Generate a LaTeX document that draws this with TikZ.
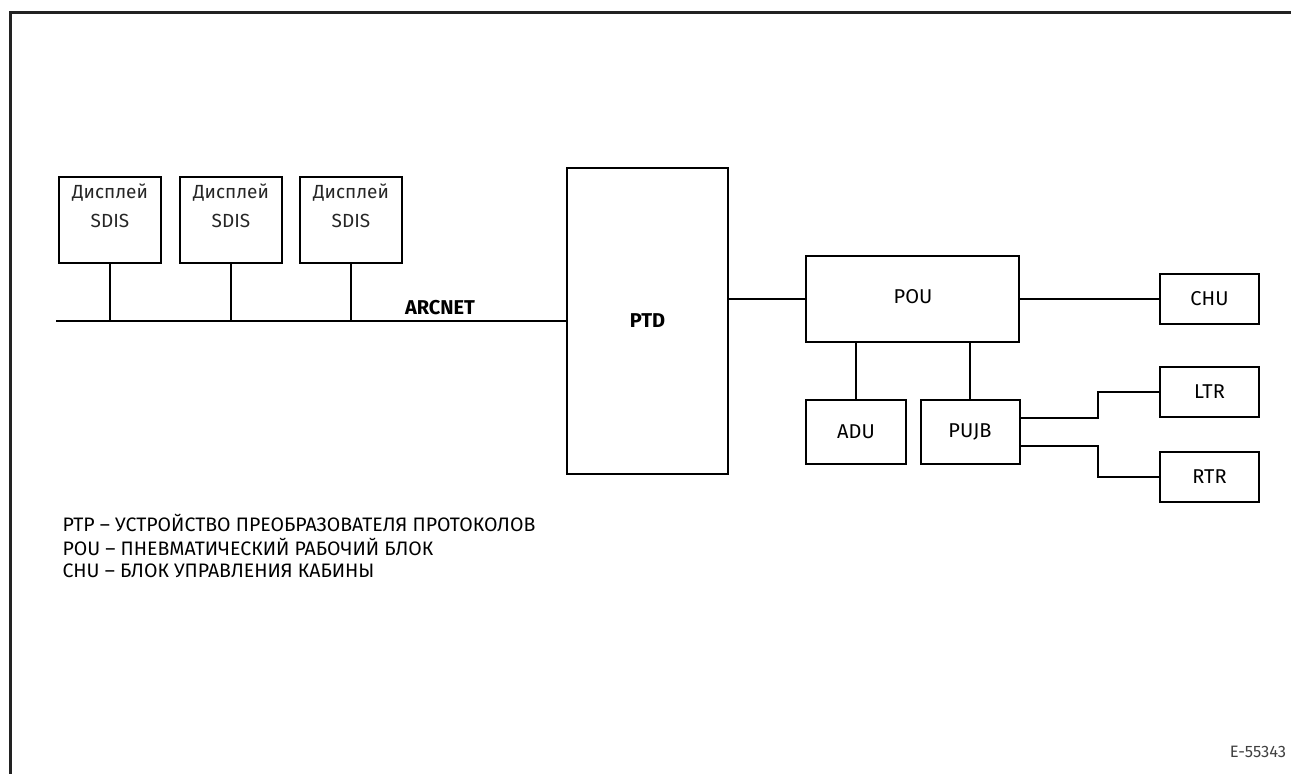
\documentclass[tikz,border=0pt]{standalone}
\usepackage{fontspec}
\setmainfont{Fira Sans}
\usetikzlibrary{calc}
\definecolor{frame}{HTML}{222222}
\begin{document}
\begin{tikzpicture}[x=1pt,y=-1pt,
  box/.style={draw, line width=2pt, inner sep=0pt, fill=white},
  wire/.style={line width=2pt},
  lbl/.style={font=\fontsize{20}{24}\selectfont},
  blbl/.style={font=\fontsize{20}{24}\selectfont\bfseries},
  leg/.style={font=\fontsize{19.5}{24}\selectfont},
  dlbl/.style={font=\fontsize{19}{29}\selectfont, align=center, text=black!85}]
\useasboundingbox (0,0) rectangle (1291,774);
\draw[line width=3pt, frame] (10,780) -- (10,12) -- (1300,12);
% display boxes
\foreach \n/\x in {d1/110,d2/231,d3/351}{
  \node[box, minimum width=102pt, minimum height=86pt] (\n) at (\x,220) {};
  \node[dlbl, anchor=north] (\n t) at ($(\n.north)+(0,4)$) {Дисплей\\SDIS};
}
\node[box, minimum width=161pt, minimum height=306pt, blbl] (ptd) at (647.5,321) {PTD};
\node[box, minimum width=213pt, minimum height=86pt] (pou) at (912.5,299) {};
\node[lbl] (pout) at (913,297) {POU};
\node[box, minimum width=99pt, minimum height=50pt, lbl] (chu) at (1209.5,299) {CHU};
\node[box, minimum width=99pt, minimum height=50pt, lbl] (ltr) at (1209.5,392) {LTR};
\node[box, minimum width=99pt, minimum height=50pt, lbl] (rtr) at (1209.5,477) {RTR};
\node[box, minimum width=100pt, minimum height=64pt, lbl] (adu) at (856,432) {ADU};
\node[box, minimum width=99pt, minimum height=64pt, lbl] (pujb) at (970,432) {PUJB};
% bus
\coordinate (busL) at (56,321);
\draw[wire] (busL) -- (ptd.west);
\foreach \n in {d1,d2,d3}{ \draw[wire] (\n.south) -- (\n.south |- busL); }
\node[blbl, anchor=base] (arc) at (440,314) {ARCNET};
% connections
\draw[wire] (pou.west) -- (pou.west -| ptd.east);
\draw[wire] (pou.east) -- (chu.west);
\draw[wire] (adu.north) -- (adu.north |- pou.south);
\draw[wire] (pujb.north) -- (pujb.north |- pou.south);
\coordinate (jx) at (1098,0);
\draw[wire] ([yshift=14pt]pujb.east) -- ([yshift=14pt]pujb.east -| jx) |- (ltr.west);
\draw[wire] ([yshift=-14pt]pujb.east) -- ([yshift=-14pt]pujb.east -| jx) |- (rtr.west);
% legend
\node[leg, anchor=west] (l1) at (59,523) {PTP – УСТРОЙСТВО ПРЕОБРАЗОВАТЕЛЯ ПРОТОКОЛОВ};
\node[leg, anchor=west] (l2) at (59,547) {POU – ПНЕВМАТИЧЕСКИЙ РАБОЧИЙ БЛОК};
\node[leg, anchor=west] (l3) at (59,571) {CHU – БЛОК УПРАВЛЕНИЯ КАБИНЫ};
\node[font=\fontsize{16.5}{18}\selectfont, text=black!75] (code) at (1258,752) {E-55343};
\end{tikzpicture}
\end{document}
